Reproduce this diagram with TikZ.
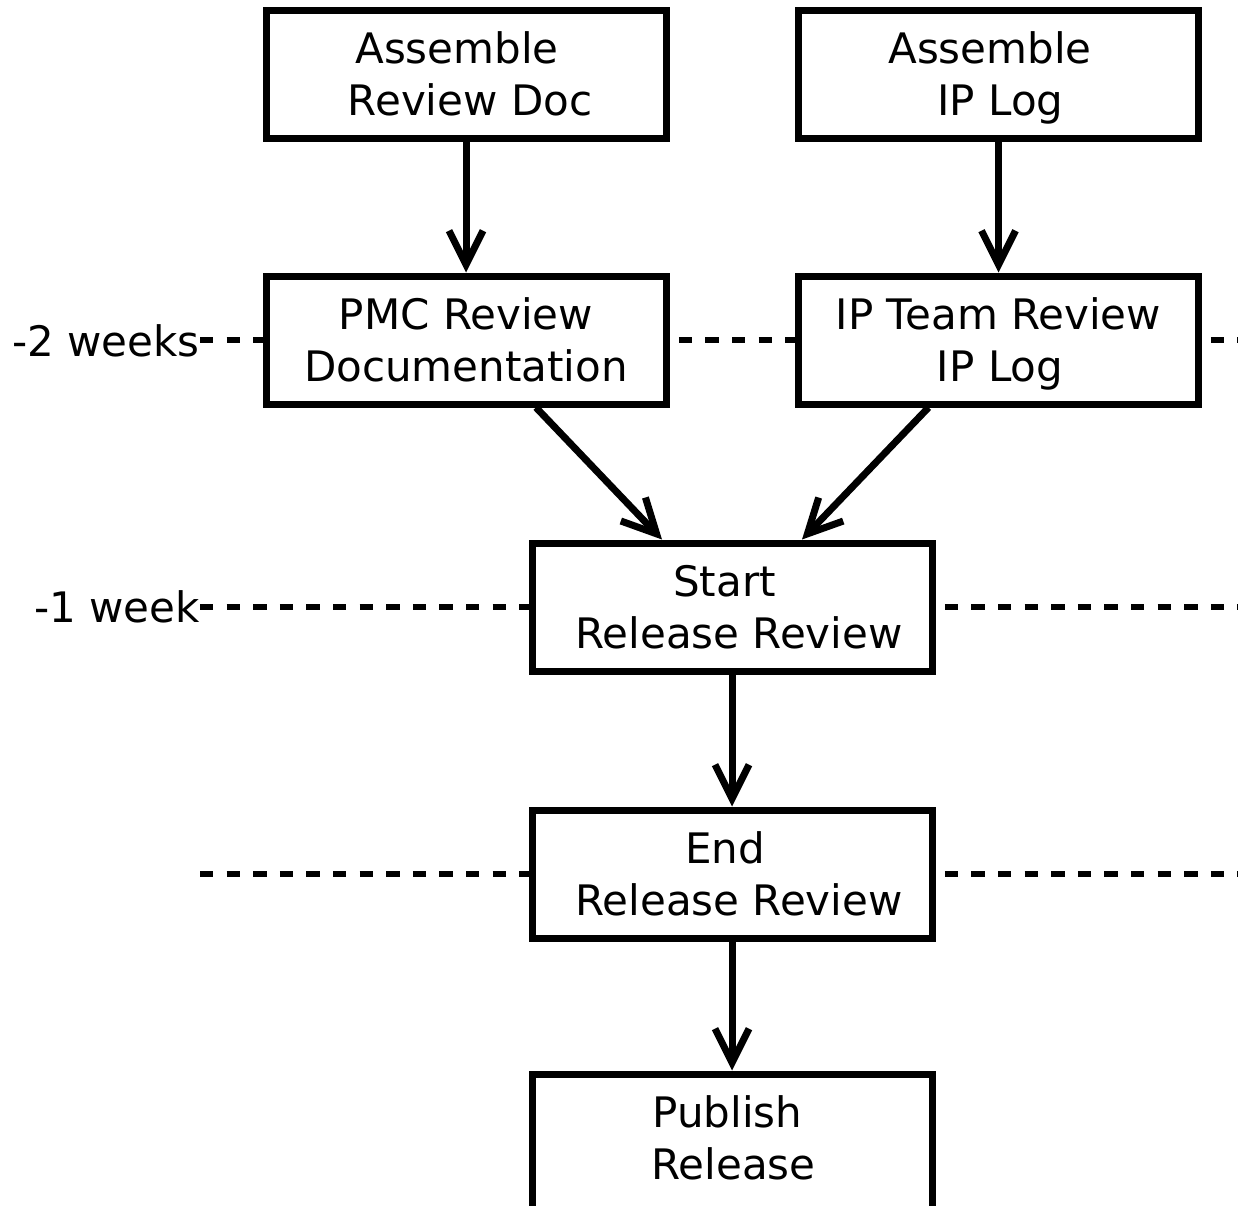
\documentclass[tikz,border=0pt]{standalone}
\usepackage{fontspec}
\setmainfont{DejaVu Sans}
\usetikzlibrary{arrows.meta}
\newcommand\topstrut{\rule{0pt}{41pt}}
\newcommand\botstrut{\rule[-11pt]{0pt}{11pt}}
\newcommand\lowstrut{\rule[-33pt]{0pt}{33pt}}
\begin{document}
\begin{tikzpicture}[x=1pt,y=-1pt,
  box/.style={draw, line width=7pt, fill=white, minimum width=400pt, minimum height=128pt,
    inner sep=0pt, align=center, font=\fontsize{42}{52}\selectfont},
  flow/.style={line width=7pt, -{Straight Barb[length=34pt,width=34pt]}},
  week/.style={dash pattern=on 13.3pt off 13.3pt, line width=6pt},
  wlabel/.style={anchor=base east, inner sep=0pt, font=\fontsize{42}{52}\selectfont}]
\useasboundingbox (0,0) rectangle (1238,1205);
% time lines
\coordinate (w2a) at (200,340);  \coordinate (w2b) at (1238,340);
\coordinate (w1a) at (200,607);  \coordinate (w1b) at (1238,607);
\coordinate (w0a) at (200,874);  \coordinate (w0b) at (1238,874);
\draw[week] (w2a) -- (w2b);
\draw[week] (w1a) -- (w1b);
\draw[week] (w0a) -- (w0b);
\node[wlabel] (l2) at (200,356) {-2 weeks};
\node[wlabel] (l1) at (200,622) {-1 week};
% boxes
\node[box] (ard) at (466,74.5) {\topstrut Assemble\hspace*{18pt}\\\hspace*{8pt}Review Doc\botstrut};
\node[box] (ail) at (998.5,74.5) {\topstrut Assemble\hspace*{17pt}\\\hspace*{4pt}IP Log\botstrut};
\node[box] (pmc) at (466,340) {\topstrut PMC Review\\Documentation\botstrut};
\node[box] (ipt) at (998.5,340) {\topstrut IP Team Review\\\hspace*{3pt}IP Log\botstrut};
\node[box] (srr) at (732,607) {\topstrut Start\hspace*{15pt}\\\hspace*{14pt}Release Review\botstrut};
\node[box] (err) at (732,874) {\topstrut End\hspace*{14pt}\\\hspace*{14pt}Release Review\botstrut};
\node[box, minimum height=150pt] (pub) at (732,1149) {\topstrut Publish\hspace*{9pt}\\\hspace*{3pt}Release\lowstrut};
% arrows
\draw[flow] (ard) -- (pmc);
\draw[flow] (ail) -- (ipt);
\draw[flow] ([xshift=70pt]pmc.south) -- ([xshift=-70pt]srr.north);
\draw[flow] ([xshift=-70pt]ipt.south) -- ([xshift=70pt]srr.north);
\draw[flow] (srr) -- (err);
\draw[flow] (err) -- (pub);
\end{tikzpicture}
\end{document}
